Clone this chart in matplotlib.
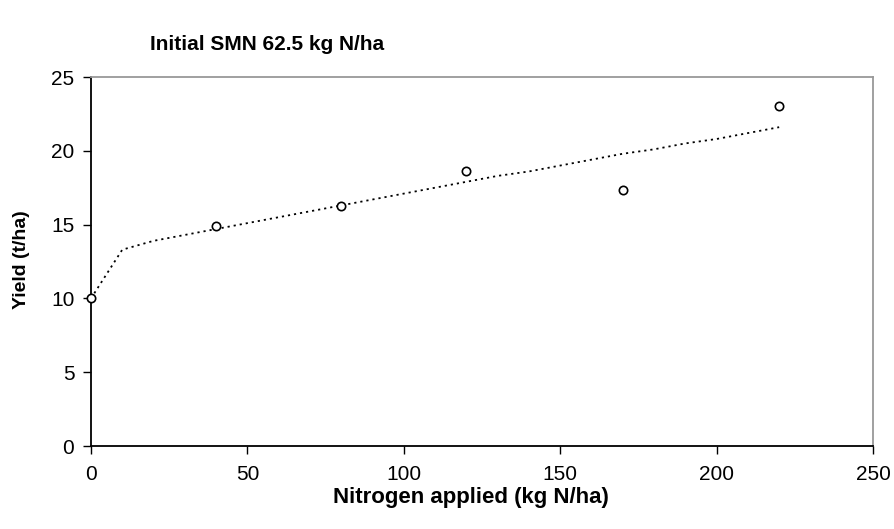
import matplotlib
matplotlib.use("Agg")
import matplotlib.pyplot as plt

plt.rcParams['font.family'] = ['Liberation Sans', 'DejaVu Sans']

# Observed data
n_obs = [0, 40, 80, 120, 170, 220]
yield_obs = [10.0, 14.9, 16.25, 18.65, 17.35, 23.05]

# Fitted curve
n_fit = [0, 10, 20, 30, 40, 50, 60, 70, 80, 90, 100, 110, 120, 130, 140,
         150, 160, 170, 180, 190, 200, 210, 220]
yield_fit = [10.0, 13.3, 13.9, 14.3, 14.7, 15.1, 15.5, 15.9, 16.3, 16.7, 17.1,
             17.5, 17.9, 18.3, 18.6, 19.0, 19.4, 19.8, 20.1, 20.5, 20.8, 21.2, 21.6]

x_ticks = [0, 50, 100, 150, 200, 250]
y_ticks = [0, 5, 10, 15, 20, 25]

fig = plt.figure(figsize=(8.95, 5.29), dpi=100)
ax = fig.add_axes([91/895, 83/529, (873-91)/895, (446-77)/529])

ax.plot(n_fit, yield_fit, linestyle=(0, (1.2, 2.2)), color='black', lw=1.3, zorder=2)
ax.plot(n_obs, yield_obs, 'o', mfc='white', mec='black', ms=6, mew=1.2, zorder=3,
        clip_on=False)

ax.set_xlim(0, 250)
ax.set_ylim(0, 25)
ax.set_xticks(x_ticks)
ax.set_yticks(y_ticks)
ax.tick_params(direction='out', length=6, width=1, labelsize=15)
ax.tick_params(axis='y', pad=6)
ax.tick_params(axis='x', pad=8)

for s in ['left', 'bottom']:
    ax.spines[s].set_color('black')
    ax.spines[s].set_linewidth(1.3)
for s in ['top', 'right']:
    ax.spines[s].set_color('#999999')
    ax.spines[s].set_linewidth(1.3)

ax.set_xlabel('Nitrogen applied (kg N/ha)', fontsize=16, fontweight='bold', va='center')
ax.set_ylabel('Yield (t/ha)', fontsize=14, fontweight='bold', va='center')
ax.xaxis.set_label_coords((471 - 91) / 782, (446 - 498) / 369)
ax.yaxis.set_label_coords((22 - 91) / 782, (446 - 260) / 369)

fig.text(150/895, 1 - 45/529, 'Initial SMN 62.5 kg N/ha', fontsize=15,
         fontweight='bold', ha='left', va='center')

fig.savefig('out.png', dpi=100)
